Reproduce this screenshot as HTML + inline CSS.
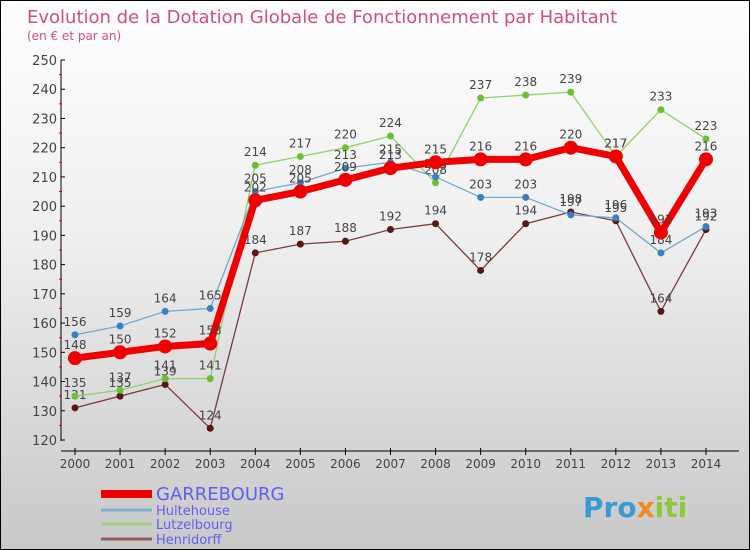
<!DOCTYPE html>
<html><head><meta charset="utf-8"><style>
body{margin:0}
#c{width:748px;height:548px;border:1px solid #000;background:linear-gradient(#fdfdfd,#f0f0f0 40%,#c8c8c8);position:relative;overflow:hidden;font-family:"DejaVu Sans","Liberation Sans",sans-serif}
</style></head><body>
<div id="c">
<svg id="s" width="748" height="548">
<text x="26" y="22" font-size="18" fill="#d0507a">Evolution de la Dotation Globale de Fonctionnement par Habitant</text>
<text x="26" y="39" font-size="12" fill="#d0507a">(en € et par an)</text>
<g id="ax"></g><g id="ser"></g>
<g id="leg"></g>
<text x="582" y="516" font-size="28" font-weight="bold" fill="#3a9ad8">Pro<tspan fill="#f08a20">x</tspan><tspan fill="#8cc83c">iti</tspan></text>
</svg></div>
<script>
const years=[2000,2001,2002,2003,2004,2005,2006,2007,2008,2009,2010,2011,2012,2013,2014];
const garrebourg=[148,150,152,153,202,205,209,213,215,216,216,220,217,191,216];
const hultehouse=[156,159,164,165,205,208,213,215,210,203,203,197,196,184,193];
const lutzelbourg=[135,137,141,141,214,217,220,224,208,237,238,239,217,233,223];
const henridorff=[131,135,139,124,184,187,188,192,194,178,194,198,195,164,192];
const yTicks=[120,130,140,150,160,170,180,190,200,210,220,230,240,250];
const NS="http://www.w3.org/2000/svg";
const X=i=>74+i*45.07, Y=v=>59+(250-v)*2.923;
function mk(t,a,p){const e=document.createElementNS(NS,t);for(const k in a)e.setAttribute(k,a[k]);p.appendChild(e);return e;}
const ax=document.getElementById('ax');
let e=mk('line',{x1:60,y1:59,x2:60,y2:440,stroke:'#000'},ax);

e=mk('line',{x1:60,y1:450,x2:738,y2:450,stroke:'#000'},ax);

yTicks.forEach((v,i)=>{mk('line',{x1:60,x2:64,y1:Y(v),y2:Y(v),stroke:'#000'},ax);
 if(i<yTicks.length-1)mk('line',{x1:58,x2:61,y1:Y(v+5),y2:Y(v+5),stroke:'#f00'},ax);
 const t=mk('text',{x:56,y:Y(v)+5,'text-anchor':'end','font-size':13,fill:'#444'},ax);t.textContent=v;
 });
years.forEach((y,i)=>{mk('line',{x1:X(i),x2:X(i),y1:447,y2:454,stroke:'#000'},ax);
 const t=mk('text',{x:X(i),y:467,'text-anchor':'middle','font-size':12,fill:'#444'},ax);t.textContent=y;
 });
const S=[["henridorff",henridorff,'#7a3a3a','#5a1515',1.3,3.5],["lutzelbourg",lutzelbourg,'#90d070','#6cc030',1.3,3.5],["hultehouse",hultehouse,'#70a8d0','#3a80c0',1.3,3.5],["garrebourg",garrebourg,'#f00000','#f00000',7,7]];
const sg=document.getElementById('ser');
S.forEach(([n,d,c,mc,w,r])=>{const g=mk('g',{},sg);
 
 mk('polyline',{points:d.map((v,i)=>X(i)+','+Y(v)).join(' '),fill:'none',stroke:c,'stroke-width':w},g);
 d.forEach((v,i)=>{const p=mk('circle',{cx:X(i),cy:Y(v),r:r,fill:mc},g);
  
  const t=mk('text',{x:X(i),y:Y(v)-9,'text-anchor':'middle','font-size':12,fill:'#444'},g);t.textContent=v;
  });});
const leg=document.getElementById('leg');
[["GARREBOURG",'#f00000',8,18],["Hultehouse",'#80b0d0',3,13],["Lutzelbourg",'#a0d080',3,13],["Henridorff",'#906060',3,13]].forEach(([n,c,w,fs],i)=>{
 const y=[493,509,523,538][i];
 mk('line',{x1:100,x2:151,y1:y,y2:y,stroke:c,'stroke-width':w},leg);
 const t=mk('text',{x:155,y:y+(i?5:6),'font-size':fs,fill:'#6060f0'},leg);t.textContent=n;
 });
</script></body></html>
